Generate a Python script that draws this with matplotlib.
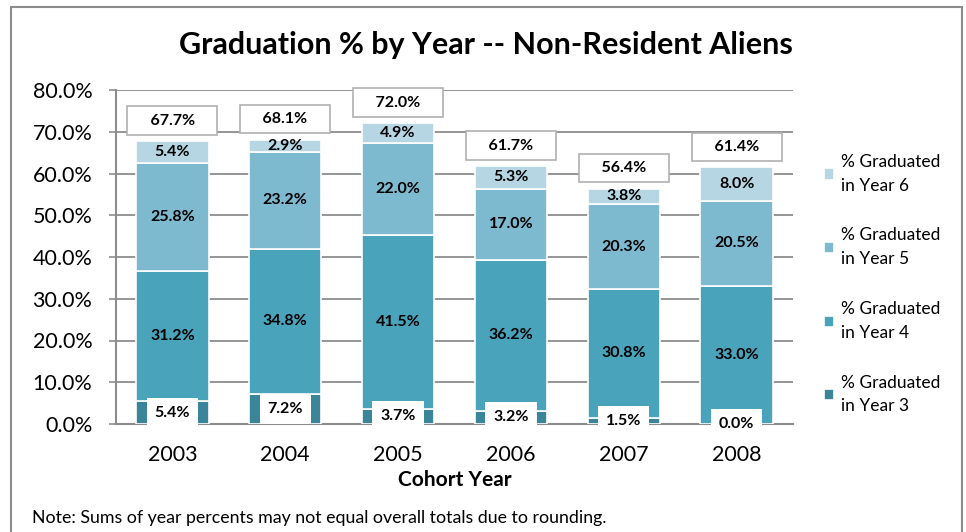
import matplotlib
matplotlib.use("Agg")
import matplotlib.pyplot as plt
from matplotlib.patches import Rectangle
import numpy as np

plt.rcParams["font.family"] = ["Lato", "DejaVu Sans"]

# ==============================
#  DONNÉES
# ==============================
annees   = ["2003", "2004", "2005", "2006", "2007", "2008"]
an3      = [5.4, 7.2, 3.7, 3.2, 1.5, 0.0]
an4      = [31.2, 34.8, 41.5, 36.2, 30.8, 33.0]
an5      = [25.8, 23.2, 22.0, 17.0, 20.3, 20.5]
an6      = [5.4, 2.9, 4.9, 5.3, 3.8, 8.0]
totaux   = [67.7, 68.1, 72.0, 61.7, 56.4, 61.4]
series   = [an3, an4, an5, an6]
noms     = ["% Graduated\nin Year 3", "% Graduated\nin Year 4",
            "% Graduated\nin Year 5", "% Graduated\nin Year 6"]
couleurs = ["#3A8599", "#49A3BB", "#7EBACF", "#B5D6E2"]
yticks   = [0, 10, 20, 30, 40, 50, 60, 70, 80]

GRIS = "#8C8C8C"

fig = plt.figure(figsize=(9.66, 5.32), dpi=100)
fig.patches.append(Rectangle((11/966, -0.05), 951/966, 1.05 - 7/532,
                             transform=fig.transFigure, fill=False,
                             edgecolor=GRIS, lw=1.5))
ax = fig.add_axes([116/966, 108/532, 677/966, 334/532])

x = np.arange(len(annees))
bas = np.zeros(len(annees))
barres = []
for vals, nom, c in zip(series, noms, couleurs):
    b = ax.bar(x, vals, 0.64, bottom=bas, color=c, edgecolor="white",
               linewidth=1.2, label=nom, zorder=3)
    barres.append(b)
    bas = bas + np.array(vals)

# étiquettes des segments
for i, (vals, b) in enumerate(zip(series, barres)):
    for j, rect in enumerate(b):
        cy = rect.get_y() + rect.get_height() / 2
        if i == 0:
            ax.text(x[j], cy, f"{vals[j]:.1f}%", ha="center", va="center",
                    fontsize=11.5, fontweight="bold", zorder=5,
                    bbox=dict(boxstyle="square,pad=0.5", fc="white", ec="none"))
        else:
            ax.text(x[j], cy, f"{vals[j]:.1f}%", ha="center", va="center",
                    fontsize=11.5, fontweight="bold", zorder=5)

# totaux (boîtes plus larges que le texte)
for j, t in enumerate(totaux):
    ax.annotate(f"    {t:.1f}%    ", xy=(x[j], t), xytext=(0, 15), textcoords="offset points",
                ha="center", va="center", fontsize=11.5, fontweight="bold", zorder=6,
                bbox=dict(boxstyle="square,pad=0.45", fc="white", ec="#B0B0B0", lw=1.2),
                annotation_clip=False)

ax.set_xlim(-0.5, len(annees) - 0.5)
ax.set_ylim(0, 80)
ax.set_yticks(yticks)
ax.set_yticklabels([f"{v:.1f}%" for v in yticks], fontsize=15.5)
ax.set_xticks(x)
ax.set_xticklabels(annees, fontsize=15.5)
ax.tick_params(axis="y", length=5, color=GRIS, width=1.2, pad=12)
ax.tick_params(axis="x", length=0, pad=15)
ax.yaxis.grid(True, color=GRIS, lw=1.3, zorder=0)
ax.set_axisbelow(True)
for s in ["top", "right"]:
    ax.spines[s].set_visible(False)
for s in ["left", "bottom"]:
    ax.spines[s].set_color(GRIS)
    ax.spines[s].set_linewidth(1.5)
ax.set_xlabel("Cohort Year", fontsize=15, fontweight="bold", labelpad=4)

h, l = ax.get_legend_handles_labels()
leg = ax.legend(h[::-1], l[::-1], loc="upper left", bbox_to_anchor=(1.035, 0.83),
                frameon=False, fontsize=12.5, handlelength=0.6, handleheight=0.6,
                handletextpad=0.4, labelspacing=1.95, borderaxespad=0)
for t in leg.get_texts():
    t.set_linespacing(1.6)

fig.text(0.503, 0.915, "Graduation % by Year -- Non-Resident Aliens",
         ha="center", va="center", fontsize=22, fontweight="bold")
fig.text(32/966, 0.026, "Note: Sums of year percents may not equal overall totals due to rounding.",
         ha="left", va="center", fontsize=12.8)

fig.savefig("out.png", dpi=100)
